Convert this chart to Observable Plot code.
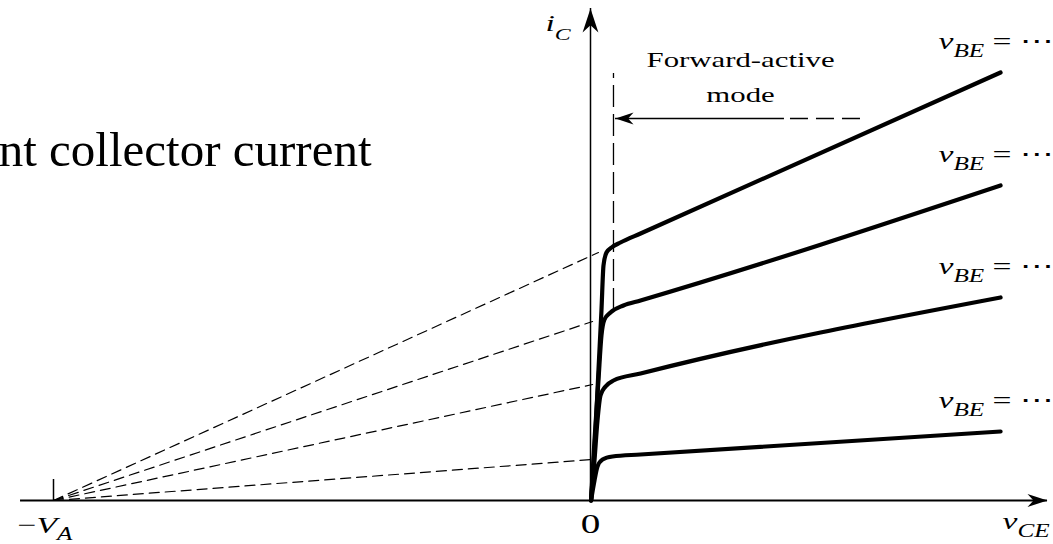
<!DOCTYPE html>
<html>
<head>
<meta charset="utf-8">
<script src="https://cdn.jsdelivr.net/npm/d3@7"></script>
<script src="https://cdn.jsdelivr.net/npm/@observablehq/plot@0.6"></script>
<style>
  html, body { margin: 0; padding: 0; background: #fff; overflow: hidden; }
  #chart { width: 1053px; height: 544px; }
</style>
</head>
<body>
<div id="chart"></div>
<script>
// Early voltage (V): every active-region line extrapolates back to v_CE = −V_A
const earlyVoltage = 50;

// i_C (mA) versus v_CE (V), one characteristic per base-emitter voltage
const curve1Vce = [0.05, 0.47, 0.74, 1.02, 1.21, 1.49, 1.96, 2.79, 4.66, 38.18];
const curve1Ic  = [0,    0.70, 1.30, 1.90, 2.35, 2.48, 2.53, 2.58, 2.67, 4.28];
const curve2Vce = [0.05, 0.37, 0.74, 1.02, 1.30, 1.86, 3.07, 4.66, 38.18];
const curve2Ic  = [0,    0.60, 1.20, 1.65, 1.81, 1.88, 1.95, 2.00, 3.15];
const curve3Vce = [0.05, 0.37, 0.65, 0.93, 1.40, 2.14, 4.66, 38.18];
const curve3Ic  = [0,    0.40, 0.80, 1.05, 1.14, 1.20, 1.27, 2.03];
const curve4Vce = [0.05, 0.37, 0.65, 1.12, 2.05, 4.66, 38.18];
const curve4Ic  = [0,    0.20, 0.34, 0.41, 0.44, 0.46, 0.69];

// dashed extrapolations: from (−V_A, 0) to just past the i_C axis
const extrapEndVce = [0.74, 0.19, 0.19, 0.19];
const extrapEndIc  = [2.48, 1.79, 1.16, 0.41];

// axis extents
const xAxisRange = [-53.07, 42.55];
const yAxisTop = 4.92;
const vaTickHeight = 0.21;

// boundary of the forward-active region and its annotation arrow
const satEdgeVce = 2.14;
const satEdgeIc = [1.90, 4.27];
const noteArrowIc = 3.82;
const noteArrowSolid = [2.33, 18.06];
const noteArrowDashed = [18.62, 25.33];
const noteText = "Forward-active\nmode";
const notePos = {v: 13.97, i: 3.99};

// text labels
const slideText = "nt collector current";
const vbeLabelVce = 32.40;
const vbeParts = [{text: "v", italic: true}, {text: "BE", italic: true, sub: 8, size: 18}, {text: " = \u22EF", sub: 0}];
const icParts  = [{text: "i", italic: true}, {text: "C", italic: true, sub: 9, size: 17}];
const vceParts = [{text: "v", italic: true}, {text: "CE", italic: true, sub: 8, size: 18}];
const vaParts  = [{text: "\u2212"}, {text: "V", italic: true}, {text: "A", italic: true, sub: 7, size: 18}];
const icLabelPos = {v: -4.19, i: 4.70};
const vceLabelPos = {v: 38.36, i: -0.28};
const vaLabelPos = {v: -53.35, i: -0.32};
const zeroLabelPos = {v: 0, i: -0.32};

const curves = [
  [curve1Vce, curve1Ic], [curve2Vce, curve2Ic], [curve3Vce, curve3Ic], [curve4Vce, curve4Ic]
];
const curveRows = curves.flatMap(([vs, is], k) => vs.map((v, j) => ({k, v, i: is[j]})));
const curveEnds = curves.map(([vs, is], k) => ({k, v: vs[vs.length - 1], i: is[is.length - 1]}));
const extrapRows = extrapEndVce.flatMap((v, k) => [
  {k, v: -earlyVoltage, i: 0},
  {k, v, i: extrapEndIc[k]}
]);

// filled barbed arrowhead, tip at the anchor point, pointing along (dx, dy)
function arrowHead(dx, dy) {
  return {
    draw(ctx, size) {
      const L = Math.sqrt(size / Math.PI), w = 0.33 * L, n = 0.7 * L;
      const px = -dy, py = dx;
      ctx.moveTo(0, 0);
      ctx.lineTo(-dx * L + px * w, -dy * L + py * w);
      ctx.lineTo(-dx * n, -dy * n);
      ctx.lineTo(-dx * L - px * w, -dy * L - py * w);
      ctx.closePath();
    }
  };
}

const serif = "Liberation Serif";
const stretchX = 1.4;

const svg = Plot.plot({
  width: 1053,
  height: 544,
  margin: 0,
  style: {background: "#fff", fontFamily: serif, color: "#000", overflow: "visible"},
  x: {type: "linear", domain: [-earlyVoltage, 0], range: [53, 590], axis: null},
  y: {type: "linear", domain: [0, 1], range: [500, 400], axis: null},
  marks: [
    // slide text partly hidden at the left edge
    Plot.text([slideText], {frameAnchor: "top-left", dx: 371, dy: 165, text: d => d,
      textAnchor: "end", lineAnchor: "bottom", fontSize: 49, fontFamily: serif, fill: "#000"}),

    // axes
    Plot.ruleY([0], {x1: xAxisRange[0], x2: xAxisRange[1], stroke: "#000", strokeWidth: 2}),
    Plot.ruleX([0], {y1: 0, y2: yAxisTop, stroke: "#000", strokeWidth: 1.5}),
    Plot.ruleX([-earlyVoltage], {y1: 0, y2: vaTickHeight, stroke: "#000", strokeWidth: 1.5}),
    Plot.dot([{v: xAxisRange[1], i: 0}], {x: "v", y: "i", r: 20, symbol: arrowHead(1, 0), fill: "#000", stroke: "none"}),
    Plot.dot([{v: 0, i: yAxisTop}], {x: "v", y: "i", r: 24, symbol: arrowHead(0, -1), fill: "#000", stroke: "none"}),

    // Early-voltage extrapolations
    Plot.line(extrapRows, {x: "v", y: "i", z: "k", stroke: "#000", strokeWidth: 1.2, strokeDasharray: "10,6"}),

    // forward-active boundary and annotation arrow
    Plot.ruleX([satEdgeVce], {y1: satEdgeIc[0], y2: satEdgeIc[1], stroke: "#000", strokeWidth: 1.3, strokeDasharray: "22,7"}),
    Plot.ruleY([noteArrowIc], {x1: noteArrowSolid[0], x2: noteArrowSolid[1], stroke: "#000", strokeWidth: 1.5}),
    Plot.ruleY([noteArrowIc], {x1: noteArrowDashed[0], x2: noteArrowDashed[1], stroke: "#000", strokeWidth: 1.5, strokeDasharray: "18,8"}),
    Plot.dot([{v: noteArrowSolid[0], i: noteArrowIc}], {x: "v", y: "i", r: 18, symbol: arrowHead(-1, 0), fill: "#000", stroke: "none"}),
    Plot.text([noteText], {x: () => notePos.v, y: () => notePos.i, text: d => d, textAnchor: "middle",
      lineAnchor: "bottom", lineHeight: 1.55, fontSize: 22, fontFamily: serif, fill: "#000", ariaDescription: "note"}),

    // i_C–v_CE characteristics
    Plot.line(curveRows, {x: "v", y: "i", z: "k", stroke: "#000", strokeWidth: 4.2, curve: "monotone-x",
      strokeLinejoin: "round"}),

    // labels
    Plot.text(curveEnds, {x: () => vbeLabelVce, y: "i", dy: -24, text: () => "v", textAnchor: "start",
      lineAnchor: "bottom", fontSize: 24, fontFamily: serif, fill: "#000", ariaDescription: "vbe-labels"}),
    Plot.text([icLabelPos], {x: "v", y: "i", text: () => "i", textAnchor: "start", lineAnchor: "bottom",
      fontSize: 24, fontFamily: serif, fill: "#000", ariaDescription: "ic-label"}),
    Plot.text([vceLabelPos], {x: "v", y: "i", text: () => "v", textAnchor: "start", lineAnchor: "bottom",
      fontSize: 24, fontFamily: serif, fill: "#000", ariaDescription: "vce-label"}),
    Plot.text([vaLabelPos], {x: "v", y: "i", text: () => "V", textAnchor: "start", lineAnchor: "bottom",
      fontSize: 24, fontFamily: serif, fill: "#000", ariaDescription: "va-label"}),
    Plot.text([zeroLabelPos], {x: "v", y: "i", text: () => "0", textAnchor: "middle", lineAnchor: "bottom",
      fontSize: 28, fontFamily: serif, fill: "#000", ariaDescription: "zero-label"})
  ]
});

const root = d3.select(svg);
function labelTexts(name) {
  return root.selectAll(`g[aria-description="${name}"] text`);
}

// widen figure lettering horizontally around each text anchor
function stretch(sel, k) {
  sel.each(function () {
    const el = d3.select(this);
    const t = el.attr("transform") || "";
    el.attr("transform", `${t} scale(${k},1)`);
  });
}

// rebuild a label as italic symbol + subscript tspans
function richen(name, parts) {
  const sel = labelTexts(name);
  sel.each(function () {
    const t = d3.select(this).text("");
    let shift = 0;
    for (const p of parts) {
      const s = t.append("tspan").text(p.text);
      if (p.italic) s.attr("font-style", "italic");
      if (p.size) s.attr("font-size", p.size);
      const target = p.sub || 0;
      if (target !== shift) { s.attr("dy", target - shift); shift = target; }
    }
  });
  stretch(sel, stretchX);
}

richen("vbe-labels", vbeParts);
richen("ic-label", icParts);
richen("vce-label", vceParts);
richen("va-label", vaParts);
stretch(labelTexts("note"), stretchX);
stretch(labelTexts("zero-label"), stretchX);

document.getElementById("chart").appendChild(svg);
</script>
</body>
</html>
